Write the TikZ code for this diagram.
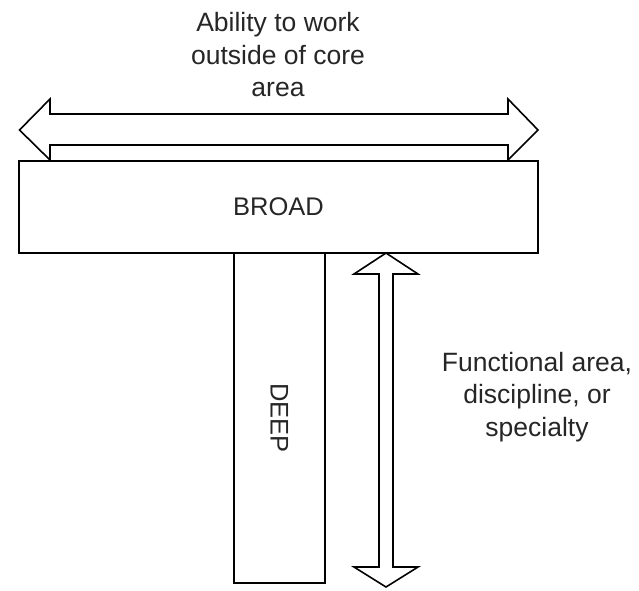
\documentclass[tikz,border=0pt]{standalone}
\usepackage{fontspec}
\setmainfont{Liberation Sans}

\begin{document}
\begin{tikzpicture}[x=1pt,y=-1pt]
   \tikzstyle{box}=[draw, line width=1.6pt, inner sep=0pt, text=black!85, font=\fontsize{25.5}{30}\selectfont]
   \tikzstyle{side text}=[align=center, inner sep=0pt, text=black!85, font=\fontsize{26.5}{32.5}\selectfont]
   \tikzstyle{block arrow}=[draw, line width=1.6pt, line join=miter, fill=white]

\useasboundingbox (0,0) rectangle (639,590);

% the two bars of the T
\node[box, minimum width=519pt, minimum height=92pt] (broad) at (278.5,207) {BROAD};
\node[box, minimum width=91pt, minimum height=330pt] (deep) at (279.5,418) {};
\node[box, draw=none, rotate=-90] (deep text) at (deep.center) {DEEP};

% block arrows
\draw[block arrow] (19.5,130) -- (50,99) -- (50,114) -- (508,114) -- (508,99) -- (538,130)
    -- (508,160) -- (508,145) -- (50,145) -- (50,160) -- cycle;
\draw[block arrow] (386,253) -- (418,274) -- (393,274) -- (393,567) -- (418,567) -- (386,587)
    -- (354,567) -- (379,567) -- (379,274) -- (354,274) -- cycle;

% labels
\node[side text] (breadth) at (278,55) {Ability to work\\outside of core\\area};
\node[side text] (depth) at (537,397) {Functional area,\\discipline, or\\specialty};

\end{tikzpicture}
\end{document}
